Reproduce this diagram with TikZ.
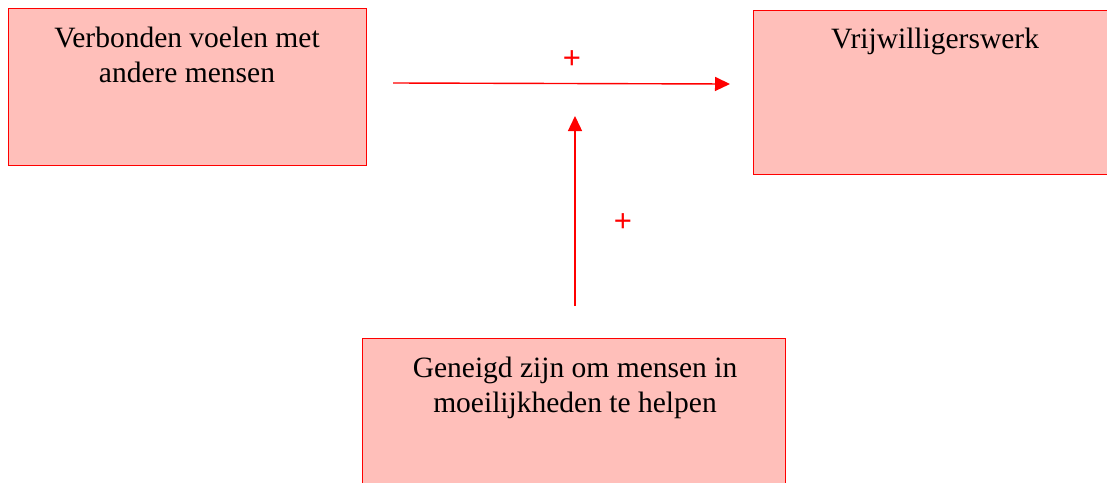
\documentclass[tikz,border=0pt]{standalone}
\usepackage{fontspec}
\setmainfont{Liberation Serif}
\newfontfamily\plusfont{Liberation Sans}
\usetikzlibrary{arrows.meta,calc}
\definecolor{boxfill}{RGB}{255,191,186}
\definecolor{boxline}{RGB}{255,0,0}
\tikzset{
  x=1pt,y=-1pt,
  box/.style={draw=boxline,fill=boxfill,line width=1.2pt,rectangle,inner sep=0pt,anchor=north west},
  lbl/.style={font=\fontsize{29.5}{35}\selectfont,align=center,inner sep=0pt,anchor=north,text=black},
  conn/.style={draw=boxline,line width=1.4pt,-{Triangle[length=15pt,width=14pt]}},
  sign/.style={font=\plusfont\fontsize{31}{31}\selectfont,text=boxline,inner sep=0pt}
}
\begin{document}
\begin{tikzpicture}
\useasboundingbox (0,0) rectangle (1107,482);
\begin{scope}
\clip (0,0) rectangle (1107,482);
\node[box,minimum width=358pt,minimum height=157pt] (a) at (8,8) {};
\node[box,minimum width=360pt,minimum height=164pt] (b) at (753,10) {};
\node[box,minimum width=423pt,minimum height=160pt] (c) at (362,338) {};
\end{scope}
\node[lbl] (ta) at (187,26.6) {Verbonden voelen met\\andere mensen};
\node[lbl] (tb) at (935,27.9) {Vrijwilligerswerk};
\node[lbl] (tc) at (575,356.6) {Geneigd zijn om mensen in\\moeilijkheden te helpen};
\coordinate (h1) at (393,83);
\coordinate (h2) at (730,84);
\coordinate (v1) at (575,306);
\coordinate (v2) at (575,116);
\draw[conn] (h1) -- (h2);
\draw[conn] (v1) -- (v2);
\node[sign] (p1) at (572,60) {+};
\node[sign] (p2) at (623,223) {+};
\end{tikzpicture}
\end{document}
